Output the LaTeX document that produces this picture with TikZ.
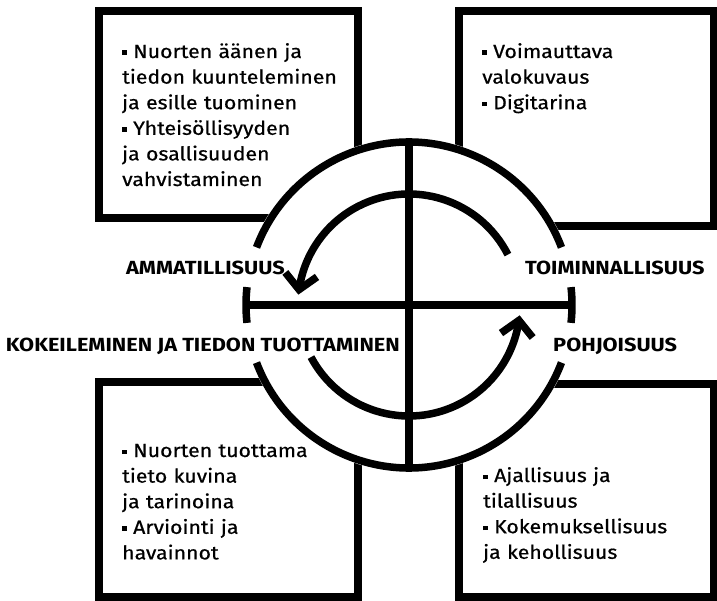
\documentclass[tikz,border=0pt]{standalone}
\usepackage{fontspec}
\setmainfont{Fira Sans}[FakeStretch=1.12, FakeBold=0.6]
\newfontfamily\lblfont{Fira Sans}[FakeStretch=1.145]
\usetikzlibrary{calc}
\newcommand\bul{\makebox[11pt][l]{\raisebox{3pt}{\rule{4.5pt}{4.5pt}}}}
\newcommand\fitm{\noindent\hangindent=11pt\hangafter=1\bul}
\newcommand\itm{\par\fitm}
\begin{document}
\begin{tikzpicture}[x=1pt,y=1pt,
  boxline/.style={line width=8pt, line join=miter},
  ringline/.style={line width=7.5pt, line cap=butt},
  lbl/.style={font=\lblfont\fontsize{19}{19}\selectfont\bfseries, inner sep=0pt},
  body/.style={font=\fontsize{19}{25.6}\selectfont, inner sep=0pt, text width=240pt, align=left},
  chevron/.style={line width=7.5pt, line join=miter, miter limit=10}
]
\useasboundingbox (0,0) rectangle (717,600);
\coordinate (C) at (409,295);
% boxes
\draw[boxline] (99,589) rectangle (358,382);
\draw[boxline] (459,589) rectangle (713.5,374);
\draw[boxline] (99,218) rectangle (358,3.5);
\draw[boxline] (459,216) rectangle (713.5,3.5);
% clear circle interior
\fill[white] (C) circle (167);
% outer ring pieces
\draw[ringline] (C) ++(20.7:163) arc[start angle=20.7, end angle=159.3, radius=163];
\draw[ringline] (C) ++(200.7:163) arc[start angle=200.7, end angle=339.3, radius=163];
\draw[ringline] (C) ++(173.7:163) arc[start angle=173.7, end angle=186.3, radius=163];
\draw[ringline] (C) ++(-6.3:163) arc[start angle=-6.3, end angle=6.3, radius=163];
% axes
\coordinate (T) at ($(C)+(90:163)$);
\coordinate (B) at ($(C)+(270:163)$);
\coordinate (L) at ($(C)+(180:163)$);
\coordinate (R) at ($(C)+(0:163)$);
\draw[ringline] (T) -- (B);
\draw[ringline] (L) -- (R);
% inner arrows
\draw[ringline] (C) ++(27:111) arc[start angle=27, end angle=172, radius=111];
\draw[ringline] (C) ++(208:111) arc[start angle=208, end angle=352, radius=111];
\coordinate (V1) at ($(C)+(172:111)$);
\coordinate (V2) at ($(C)+(352:111)$);
\begin{scope}[shift={(V1)}, rotate=262]
  \draw[chevron] (-15,16) -- (0,0) -- (-15,-16);
\end{scope}
\begin{scope}[shift={(V2)}, rotate=82]
  \draw[chevron] (-15,16) -- (0,0) -- (-15,-16);
\end{scope}
% labels
\node[lbl, anchor=base east] (amm) at (285,325) {AMMATILLISUUS};
\node[lbl, anchor=base west] (toim) at (525,325) {TOIMINNALLISUUS};
\node[lbl, anchor=base east] (kok) at (400,248) {KOKEILEMINEN JA TIEDON TUOTTAMINEN};
\node[lbl, anchor=base west] (pohj) at (553,248) {POHJOISUUS};
% texts
\node[body, anchor=base west] (tl) at (122,542) {\fitm Nuorten äänen ja\\tiedon kuunteleminen\\ja esille tuominen\itm Yhteisöllisyyden\\ja osallisuuden\\vahvistaminen};
\node[body, anchor=base west] (tr) at (482,542) {\fitm Voimauttava\\valokuvaus\itm Digitarina};
\node[body, anchor=base west] (bl) at (122,143) {\fitm Nuorten tuottama\\tieto kuvina\\ja tarinoina\itm Arviointi ja\\havainnot};
\node[body, anchor=base west] (br) at (483,118) {\fitm Ajallisuus ja\\tilallisuus\itm Kokemuksellisuus\\ja kehollisuus};
\end{tikzpicture}
\end{document}
